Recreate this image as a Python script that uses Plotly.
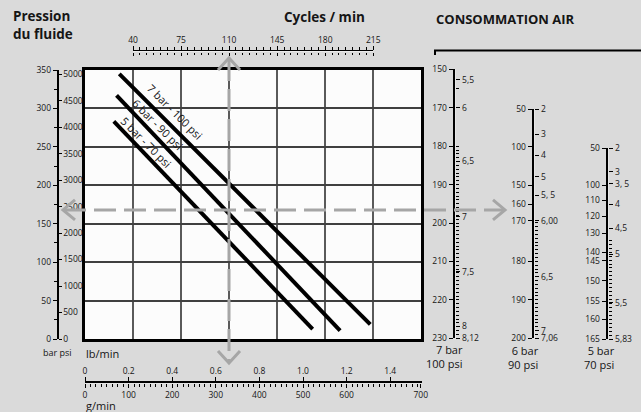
import plotly.graph_objects as go

# ---------------- data ----------------
cycles_ticks = [40, 75, 110, 145, 180, 215]
bar_ticks = [0, 50, 100, 150, 200, 250, 300, 350]
psi_ticks = [0, 500, 1000, 1500, 2000, 2500, 3000, 3500, 4000, 4500, 5000]
grid_bar = [50, 100, 150, 200, 250, 300]
lb_ticks = [0, 0.2, 0.4, 0.6, 0.8, 1.0, 1.2, 1.4]
lb_labels = ["0", "0.2", "0.4", "0.6", "0.8", "1.0", "1.2", "1.4"]
g_ticks = [0, 100, 200, 300, 400, 500, 600, 770]
g_labels = ["0", "100", "200", "300", "400", "500", "600", "700"]

series_names = ["7 bar - 100 psi", "6 bar - 90 psi", "5 bar - 70 psi"]
line7_cycles = [30, 213]
line7_bar = [345, 19]
line6_cycles = [28, 191]
line6_bar = [317, 11]
line5_cycles = [26, 171]
line5_bar = [283, 13]

reading_cycles = 110
reading_bar = 168

nomo7_left_pos = [160, 170, 180, 190, 200, 210, 220, 230]
nomo7_left_text = ["150", "170", "180", "190", "200", "210", "220", "230"]
nomo7_right_pos = [162.7, 170, 183.9, 198.4, 212.7, 226.8, 230]
nomo7_right_text = ["5,5", "6", "6,5", "7", "7,5", "8", "8,12"]
nomo7_minor = [165] + list(range(180, 231))

nomo6_left_pos = [140.4, 150.2, 160.2, 165.2, 169.5, 180, 190, 200]
nomo6_left_text = ["50", "100", "150", "160", "170", "180", "190", "200"]
nomo6_right_pos = [140.4, 146.9, 152.4, 158, 162.8, 169.5, 184, 198, 200]
nomo6_right_text = ["2", "3", "4", "5", "5, 5", "6,00", "6,5", "7", "7,06"]
nomo6_minor = list(range(170, 201))

nomo5_left_pos = [116.6, 126, 129.8, 133.9, 138.2, 143.0, 145.2, 150.3, 155.4, 160, 165]
nomo5_left_text = ["50", "100", "110", "120", "130", "140", "145", "150", "155", "160", "165"]
nomo5_right_pos = [116.6, 122.6, 125.6, 130.9, 137, 143.5, 155.8, 165]
nomo5_right_text = ["2", "3", "3, 5", "4", "4,5", "5", "5,5", "5,83"]
nomo5_minor = list(range(140, 166))

# ---------------- layout helpers ----------------
W, H = 641, 412
def fx(px):
    return px / W
def fy(py):
    return 1 - py / H

FONT = "Open Sans"
TXT = "#151515"
TICKFONT = dict(family=FONT, size=8.5, color=TXT)
ARROW = "#a6a6a6"
THIN = 0.0006

fig = go.Figure()

def anchor_trace(xa, ya, x, y):
    fig.add_trace(go.Scatter(x=[x], y=[y], xaxis=xa, yaxis=ya, mode="markers",
                             marker=dict(opacity=0, size=1), hoverinfo="skip",
                             showlegend=False))

# main lines
for xs, ys in [(line7_cycles, line7_bar), (line6_cycles, line6_bar), (line5_cycles, line5_bar)]:
    fig.add_trace(go.Scatter(x=xs, y=ys, mode="lines", xaxis="x", yaxis="y",
                             line=dict(color="black", width=4), hoverinfo="skip",
                             showlegend=False))

anchor_trace("x2", "y10", 100, 0.5)
anchor_trace("x3", "y10", 100, 0.5)
anchor_trace("x", "y2", 100, 100)
anchor_trace("x", "y3", 100, 1000)
anchor_trace("x4", "y11", 0.5, 0.5)
anchor_trace("x5", "y11", 300, 0.5)
anchor_trace("x6", "y4", 0.5, 200)
anchor_trace("x6", "y5", 0.5, 200)
anchor_trace("x7", "y6", 0.5, 180)
anchor_trace("x7", "y7", 0.5, 180)
anchor_trace("x8", "y8", 0.5, 150)
anchor_trace("x8", "y9", 0.5, 150)

layout = dict(
    template="none",
    width=W, height=H, autosize=False,
    margin=dict(l=0, r=0, t=0, b=0, pad=0),
    paper_bgcolor="#dadada", plot_bgcolor="#fcfcfc",
    showlegend=False,
    font=dict(family=FONT, color=TXT),
)

# main plot box
layout["xaxis"] = dict(domain=[fx(85), fx(421)], range=[5, 250], anchor="y",
                       tickmode="array", tickvals=cycles_ticks, showticklabels=False,
                       ticks="", showgrid=True, gridcolor="#5a5a5a", gridwidth=1.5,
                       showline=True, mirror=True, linewidth=2.5, linecolor="black",
                       zeroline=False, automargin=False)
layout["yaxis"] = dict(domain=[fy(339), fy(70)], range=[0, 350], anchor="x",
                       tickmode="array", tickvals=grid_bar, showticklabels=False,
                       ticks="", showgrid=True, gridcolor="#404040", gridwidth=1.5,
                       showline=True, mirror=True, linewidth=2.5, linecolor="black",
                       zeroline=False, automargin=False)

# hidden thin y axes that carry the top and bottom scales
layout["yaxis10"] = dict(domain=[fy(51.5) - THIN, fy(51.5) + THIN], range=[0, 1],
                         anchor="x2", visible=False, automargin=False)
layout["yaxis11"] = dict(domain=[fy(383) - THIN, fy(383) + THIN], range=[0, 1],
                         anchor="x4", visible=False, automargin=False)

# top cycles axis
layout["xaxis2"] = dict(domain=[fx(133), fx(373.3)], range=[40, 215], anchor="y10",
                        side="top", tickmode="array",
                        tickvals=cycles_ticks, ticks="outside", ticklen=4, tickwidth=1.2,
                        tickcolor="black", showline=True, linewidth=1.3, linecolor="black",
                        showgrid=False, zeroline=False, tickfont=TICKFONT, automargin=False,
                        minor=dict(dtick=5, tick0=40, ticks="outside", ticklen=3,
                                   tickwidth=1, tickcolor="black"))
layout["xaxis3"] = dict(domain=[fx(133), fx(373.3)], range=[40, 215], anchor="y10",
                        overlaying="x2", side="bottom",
                        tickmode="array", tickvals=cycles_ticks, ticks="outside",
                        ticklen=3, tickwidth=1.2, tickcolor="black",
                        showticklabels=False, showline=False, showgrid=False,
                        zeroline=False, automargin=False,
                        minor=dict(dtick=5, tick0=40, ticks="outside", ticklen=2,
                                   tickwidth=1, tickcolor="black"))

# bar / psi axes
psi_max = 350 / 0.0689476
layout["yaxis2"] = dict(range=[0, 350], anchor="free", overlaying="y", position=fx(57.5),
                        side="left", tickmode="array", tickvals=bar_ticks, ticks="outside",
                        ticklen=4, tickwidth=1.2, tickcolor="black", showline=True,
                        linewidth=1.5, linecolor="black", showgrid=False, zeroline=False,
                        tickfont=TICKFONT, automargin=False,
                        minor=dict(dtick=25, ticks="outside", ticklen=3, tickwidth=1,
                                   tickcolor="black"))
layout["yaxis3"] = dict(range=[0, psi_max], anchor="free", overlaying="y", position=fx(57.5),
                        side="right", tickmode="array", tickvals=psi_ticks, ticks="outside",
                        ticklen=3, tickwidth=1.2, tickcolor="black", showline=False,
                        showgrid=False, zeroline=False, tickfont=TICKFONT, automargin=False)

# bottom lb/min and g/min axes
lb_max = 337 / 218
layout["xaxis4"] = dict(domain=[fx(85), fx(422)], range=[0, lb_max], anchor="y11",
                        side="top", tickmode="array", tickvals=lb_ticks,
                        ticktext=lb_labels, ticks="outside", ticklen=4, tickwidth=1.2,
                        tickcolor="black", showline=True, linewidth=1.5, linecolor="black",
                        showgrid=False, zeroline=False, tickfont=TICKFONT, automargin=False)
layout["xaxis5"] = dict(domain=[fx(85), fx(422)], range=[0, lb_max * 500], anchor="y11",
                        overlaying="x4", side="bottom", tickmode="array",
                        tickvals=g_ticks, ticktext=g_labels, ticks="outside", ticklen=4,
                        tickwidth=1.2, tickcolor="black", showline=False, showgrid=False,
                        zeroline=False, tickfont=TICKFONT, automargin=False,
                        minor=dict(dtick=12.5, ticks="outside", ticklen=3, tickwidth=1,
                                   tickcolor="black"))

# nomograms
nomos = [
    ("x6", "y4", "y5", 455, 69.3, 338.3, 160, 230, nomo7_left_pos, nomo7_left_text,
     nomo7_right_pos, nomo7_right_text, nomo7_minor),
    ("x7", "y6", "y7", 534, 109, 338.3, 140.4, 200, nomo6_left_pos, nomo6_left_text,
     nomo6_right_pos, nomo6_right_text, nomo6_minor),
    ("x8", "y8", "y9", 608, 148, 339, 116.6, 165, nomo5_left_pos, nomo5_left_text,
     nomo5_right_pos, nomo5_right_text, nomo5_minor),
]
for (xa, yl, yr, axpx, top, bot, vtop, vbot, lp, lt, rp, rt, mn) in nomos:
    xkey = "xaxis" + xa[1:]
    ylkey = "yaxis" + yl[1:]
    yrkey = "yaxis" + yr[1:]
    layout[xkey] = dict(domain=[fx(axpx) - THIN, fx(axpx) + THIN], range=[0, 1],
                        anchor=yl, visible=False, automargin=False)
    layout[ylkey] = dict(domain=[fy(bot), fy(top)], range=[vbot, vtop], anchor=xa,
                         side="left", tickmode="array", tickvals=lp, ticktext=lt,
                         ticks="outside", ticklen=4, tickwidth=1.2, tickcolor="black",
                         showline=True, linewidth=2, linecolor="black", showgrid=False,
                         zeroline=False, tickfont=TICKFONT, automargin=False)
    layout[yrkey] = dict(range=[vbot, vtop], anchor=xa, overlaying=yl, side="right",
                         tickmode="array", tickvals=rp, ticktext=rt, ticks="outside",
                         ticklen=4, tickwidth=1.2, tickcolor="black", showline=False,
                         showgrid=False, zeroline=False, tickfont=TICKFONT, automargin=False,
                         minor=dict(tickmode="array", tickvals=mn, ticks="outside",
                                    ticklen=2.5, tickwidth=1, tickcolor="black"))

# annotations
ann = []
def text(x, y, s, size=11, bold=False, xanchor="center", align="center", angle=0):
    ann.append(dict(xref="paper", yref="paper", x=x, y=y, text=(f"<b>{s}</b>" if bold else s),
                    showarrow=False, xanchor=xanchor, yanchor="middle", align=align,
                    textangle=angle, font=dict(family=FONT, size=size, color=TXT)))

text(fx(11), fy(25), "Pression<br>du fluide", size=13.5, bold=True, xanchor="left", align="left")
text(fx(325), fy(17), "Cycles / min", size=13.5, bold=True)
text(fx(434), fy(19), "CONSOMMATION AIR", size=13, bold=True, xanchor="left")
text(fx(57), fy(352.5), "bar psi", size=9)
text(fx(84), fy(353), "lb/min", size=11, xanchor="left")
text(fx(84), fy(405), "g/min", size=11, xanchor="left")
text(fx(465), fy(356.5), "7 bar<br>100 psi", size=11, xanchor="right", align="right")
text(fx(541), fy(357), "6 bar<br>90 psi", size=11, xanchor="right", align="right")
text(fx(617), fy(357), "5 bar<br>70 psi", size=11, xanchor="right", align="right")

label_pos = [(70.5, 296.0), (58.2, 279.5), (49.8, 255.5)]
for name, (cx, by) in zip(series_names, label_pos):
    ann.append(dict(xref="x", yref="y", x=cx, y=by, text=name, showarrow=False,
                    textangle=45, font=dict(family=FONT, size=11, color=TXT)))
layout["annotations"] = ann

# reading arrows and bracket
shapes = []
dash = "22px,8px"
shapes.append(dict(type="line", xref="paper", yref="y", x0=fx(64), x1=fx(504),
                   y0=reading_bar, y1=reading_bar, layer="above",
                   line=dict(color=ARROW, width=3, dash=dash)))
shapes.append(dict(type="line", xref="x", yref="paper", x0=reading_cycles, x1=reading_cycles,
                   y0=fy(59), y1=fy(362), layer="above",
                   line=dict(color=ARROW, width=3, dash=dash)))
shapes.append(dict(type="path", xref="paper", yref="y", xsizemode="pixel", ysizemode="pixel",
                   xanchor=fx(63), yanchor=reading_bar, path="M 12,10 L 0,0 L 12,-10",
                   layer="above", line=dict(color=ARROW, width=3)))
shapes.append(dict(type="path", xref="paper", yref="y", xsizemode="pixel", ysizemode="pixel",
                   xanchor=fx(505), yanchor=reading_bar, path="M -12,10 L 0,0 L -12,-10",
                   layer="above", line=dict(color=ARROW, width=3)))
shapes.append(dict(type="path", xref="x", yref="paper", xsizemode="pixel", ysizemode="pixel",
                   xanchor=reading_cycles, yanchor=fy(58), path="M -11,-12 L 0,0 L 11,-12",
                   layer="above", line=dict(color=ARROW, width=3)))
shapes.append(dict(type="path", xref="x", yref="paper", xsizemode="pixel", ysizemode="pixel",
                   xanchor=reading_cycles, yanchor=fy(363), path="M -11,12 L 0,0 L 11,12",
                   layer="above", line=dict(color=ARROW, width=3)))
shapes.append(dict(type="path", xref="paper", yref="paper",
                   path=f"M {fx(435)},{fy(55)} L {fx(435)},{fy(50.5)} L {fx(641)},{fy(50.5)}",
                   line=dict(color="black", width=2)))
layout["shapes"] = shapes

fig.update_layout(**layout)
fig.write_html("out.html", config={"displayModeBar": False},
               post_script="document.body.style.margin='0';document.body.style.padding='0';")
